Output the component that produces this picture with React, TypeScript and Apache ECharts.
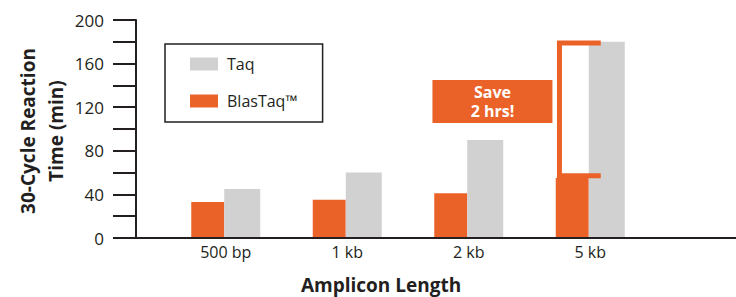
import React, { useEffect, useRef } from "react";
import * as echarts from "echarts";

const categories = ["500 bp", "1 kb", "2 kb", "5 kb"];
const blasTaq = [33, 35, 41, 55];
const taq = [45, 60, 90, 180];
const yTicks = { min: 0, max: 200, interval: 40 };
const bracket = [[3, 57, 179]];
const saveLabel = "Save\n2 hrs!";
const xTitle = "Amplicon Length";
const yTitle = "30-Cycle Reaction\nTime (min)";

const ORANGE = "#EA6228";
const GRAY = "#D1D1D1";
const INK = "#231F20";
const FONT = "'Open Sans', 'Noto Sans', sans-serif";

export default function App() {
  const ref = useRef<HTMLDivElement>(null);
  useEffect(() => {
    if (!ref.current) return;
    const chart = echarts.init(ref.current, null, { renderer: "svg" });
    chart.setOption({
      animation: false,
      textStyle: { fontFamily: FONT, color: INK },
      grid: { left: 165, right: 85, top: 20, bottom: 59 },
      legend: {
        orient: "vertical",
        left: 165,
        top: 44,
        data: ["Taq", "BlasTaq™"],
        icon: "rect",
        itemWidth: 28,
        itemHeight: 13,
        itemGap: 21,
        borderColor: INK,
        borderWidth: 1.5,
        borderRadius: 0,
        padding: [12, 25, 13, 25],
        selectedMode: false,
        textStyle: { fontSize: 16, color: INK, fontFamily: FONT, lineHeight: 16, padding: [0, 0, 0, 4] },
      },
      xAxis: {
        type: "category",
        data: categories,
        axisLine: { show: false },
        axisTick: { show: false },
        axisLabel: { fontSize: 16, color: INK, margin: 6, fontFamily: FONT },
      },
      yAxis: {
        type: "value",
        min: yTicks.min,
        max: yTicks.max,
        interval: yTicks.interval,
        offset: 29,
        axisLine: { show: true, lineStyle: { color: INK, width: 2 } },
        axisTick: { show: true, length: 23, lineStyle: { color: INK, width: 2 } },
        minorTick: { show: true, splitNumber: 2, length: 23, lineStyle: { color: INK, width: 2 } },
        splitLine: { show: false },
        axisLabel: { fontSize: 17, color: INK, margin: 32, fontFamily: FONT },
      },
      graphic: [
        {
          type: "line",
          shape: { x1: 136, y1: 238, x2: 736, y2: 238 },
          style: { stroke: INK, lineWidth: 2 },
          z: 10,
        },
        {
          type: "text",
          x: 381,
          y: 285,
          style: {
            text: xTitle,
            fill: INK,
            font: `bold 19px ${FONT}`,
            align: "center",
            verticalAlign: "middle",
          },
        },
        {
          type: "text",
          x: 42,
          y: 131,
          rotation: Math.PI / 2,
          style: {
            text: yTitle,
            fill: INK,
            font: `bold 19px ${FONT}`,
            lineHeight: 28,
            align: "center",
            verticalAlign: "middle",
          },
        },
      ],
      series: [
        {
          name: "BlasTaq™",
          type: "bar",
          data: blasTaq,
          barWidth: 33,
          barGap: "0%",
          itemStyle: { color: ORANGE },
        },
        {
          name: "Taq",
          type: "bar",
          data: taq,
          barWidth: 36,
          barGap: "0%",
          itemStyle: { color: GRAY },
        },
        {
          type: "custom",
          data: bracket,
          z: 5,
          clip: false,
          renderItem: (params: any, api: any) => {
            const top = api.coord([api.value(0), api.value(2)]);
            const bot = api.coord([api.value(0), api.value(1)]);
            const vx = top[0] - 30.8;
            const rx = top[0] + 10.5;
            const mid = (top[1] + bot[1]) / 2 - 8;
            return {
              type: "group",
              children: [
                {
                  type: "polyline",
                  shape: { points: [[rx, top[1]], [vx, top[1]], [vx, bot[1]], [rx, bot[1]]] },
                  style: { stroke: ORANGE, lineWidth: 5, fill: null, lineJoin: "miter" },
                },
                {
                  type: "rect",
                  shape: { x: vx - 127, y: mid - 21.5, width: 120, height: 43 },
                  style: { fill: ORANGE },
                },
                {
                  type: "text",
                  x: vx - 67,
                  y: mid,
                  style: {
                    text: saveLabel,
                    fill: "#fff",
                    font: `bold 16px ${FONT}`,
                    lineHeight: 19,
                    align: "center",
                    verticalAlign: "middle",
                  },
                },
              ],
            };
          },
        },
      ],
    });
    return () => chart.dispose();
  }, []);
  return <div ref={ref} style={{ width: 736, height: 297, position: "absolute", left: 0, top: 0 }} />;
}
